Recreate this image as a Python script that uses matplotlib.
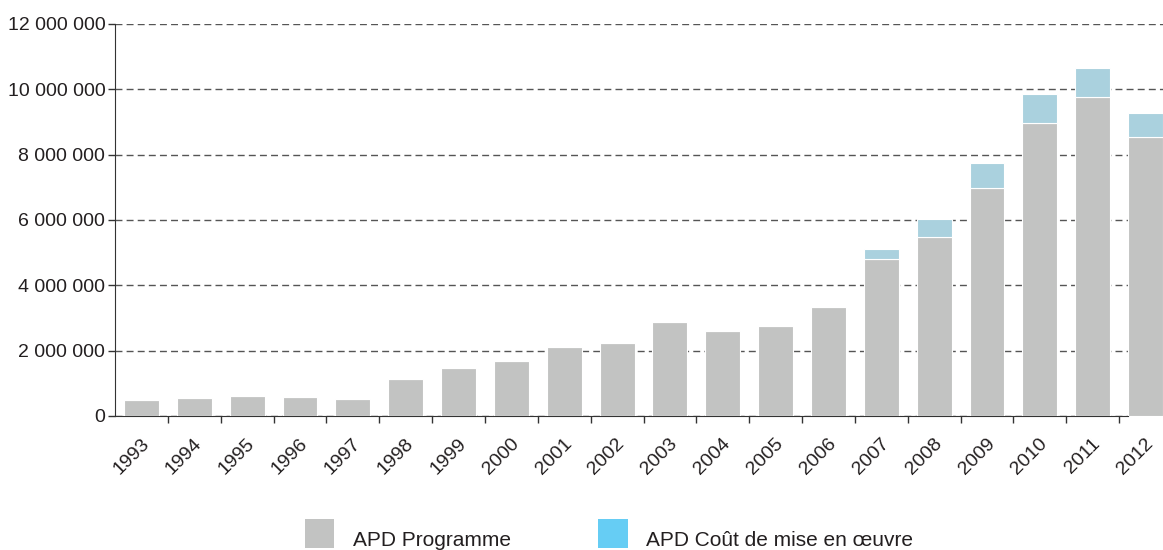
import numpy as np
import matplotlib
matplotlib.use("Agg")
import matplotlib.pyplot as plt
import matplotlib.transforms as mtransforms
from matplotlib.patches import Patch
from matplotlib.ticker import FuncFormatter

# APD par année (euros)
years = [1993, 1994, 1995, 1996, 1997, 1998, 1999, 2000, 2001, 2002,
         2003, 2004, 2005, 2006, 2007, 2008, 2009, 2010, 2011, 2012]
programme = [490000, 560000, 610000, 580000, 520000, 1130000, 1460000, 1680000, 2100000, 2230000,
             2880000, 2600000, 2750000, 3340000, 4800000, 5480000, 6990000, 8960000, 9760000, 8540000]
mise_en_oeuvre = [0, 0, 0, 0, 0, 0, 0, 0, 0, 0,
                  0, 0, 0, 0, 300000, 550000, 760000, 890000, 880000, 740000]

y_ticks = [0, 2000000, 4000000, 6000000, 8000000, 10000000, 12000000]
legend_labels = ["APD Programme", "APD Coût de mise en œuvre"]

gray = "#c2c3c2"
blue_bar = "#aad1de"
blue_legend = "#66cdf4"
text_col = "#231f20"

plt.rcParams['font.family'] = ['Liberation Sans', 'DejaVu Sans']


def main():
    fig = plt.figure(figsize=(11.63, 5.5), dpi=100)
    ax = fig.add_axes([115 / 1163, 1 - 416 / 550, 1057 / 1163, 392 / 550])

    x = np.arange(len(years))
    ax.bar(x, programme, width=0.66, color=gray, edgecolor="white", linewidth=0.8, zorder=3)
    ax.bar(x, mise_en_oeuvre, width=0.66, bottom=programme, color=blue_bar,
           edgecolor="white", linewidth=0.8, zorder=3)

    ax.set_xlim(-0.5, len(years) - 0.5)
    ax.set_ylim(0, 12000000)

    # y axis with space as thousands separator
    ax.set_yticks(y_ticks)
    ax.yaxis.set_major_formatter(FuncFormatter(lambda v, p: f"{int(v):,}".replace(",", " ")))
    ax.yaxis.grid(True, linestyle=(0, (5, 3)), color="#555555", linewidth=1.0, zorder=1)
    ax.set_axisbelow(True)

    # ticks between categories, labels on the bars
    ax.set_xticks(np.arange(len(years) - 1) + 0.5)
    ax.set_xticklabels([])
    ax.set_xticks(x, minor=True)
    ax.set_xticklabels([str(y) for y in years], minor=True, rotation=45,
                       ha="right", va="center", rotation_mode="anchor")
    ax.tick_params(axis="x", which="minor", length=0, pad=18, labelsize=14, labelcolor=text_col)
    ax.tick_params(axis="x", which="major", length=5, width=1, color="#333333", direction="out")
    ax.tick_params(axis="y", length=5, width=1, color="#333333", labelsize=14, labelcolor=text_col, pad=2)
    shift = mtransforms.ScaledTranslation(0.05, 0, fig.dpi_scale_trans)
    for lbl in ax.get_xticklabels(minor=True):
        lbl.set_transform(lbl.get_transform() + shift)

    for side in ["top", "right"]:
        ax.spines[side].set_visible(False)
    ax.spines["left"].set_color("#333333")
    ax.spines["bottom"].set_color("#333333")
    ax.spines["bottom"].set_bounds(-0.5, 18.67)

    handles = [Patch(facecolor=gray, edgecolor="none"), Patch(facecolor=blue_legend, edgecolor="none")]
    leg = fig.legend(handles, legend_labels, loc="lower left", bbox_to_anchor=(305 / 1163, 2 / 550),
                     ncol=2, frameon=False, fontsize=15, handlelength=1.4, handleheight=1.75,
                     handletextpad=0.9, columnspacing=4.2, borderpad=0, borderaxespad=0,
                     labelcolor=text_col)
    # legend text sits low, near the bottom of the swatch
    drop = mtransforms.ScaledTranslation(0, -0.06, fig.dpi_scale_trans)
    for t in leg.get_texts():
        t.set_transform(t.get_transform() + drop)

    fig.savefig("out.png", dpi=100)


if __name__ == "__main__":
    main()
